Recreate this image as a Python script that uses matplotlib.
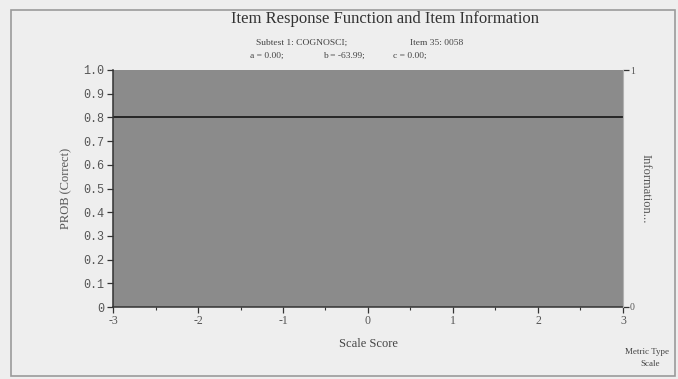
import matplotlib
matplotlib.use("Agg")
import matplotlib.pyplot as plt
from matplotlib.patches import Rectangle
from matplotlib.ticker import MultipleLocator

# Item characteristic curve (probability of a correct response vs. scale score)
scale_score = [-3, 3]
prob_correct = [0.8, 0.8]

x_ticks = [-3, -2, -1, 0, 1, 2, 3]
x_tick_labels = ["-3", "-2", "-1", "0", "1", "2", "3"]
y_ticks = [0, 0.1, 0.2, 0.3, 0.4, 0.5, 0.6, 0.7, 0.8, 0.9, 1.0]
y_tick_labels = ["0", "0.1", "0.2", "0.3", "0.4", "0.5", "0.6", "0.7", "0.8", "0.9", "1.0"]
info_ticks = [0, 1]
info_tick_labels = ["0", "1"]

W, H = 678, 379
paper = "#eeeeee"
panel = "#8b8b8b"
ink = "#333333"
serif = "Liberation Serif"
mono = "Liberation Mono"

fig = plt.figure(figsize=(W / 100, H / 100), dpi=100, facecolor=paper)

# page frame
fig.patches.append(Rectangle((11 / W, 3 / H), 664 / W, 366 / H, transform=fig.transFigure,
                             fill=False, edgecolor="#9a9a9a", linewidth=1.2))

ax = fig.add_axes([113 / W, 1 - 307 / H, 510 / W, 237 / H])
ax.set_facecolor(panel)
ax.plot(scale_score, prob_correct, color="#1e1e1e", linewidth=1.3)
ax.set_xlim(-3, 3)
ax.set_ylim(0, 1.0)

ax.set_xticks(x_ticks)
ax.set_xticklabels(x_tick_labels, fontfamily=serif, fontsize=8.5, color="#555555")
ax.xaxis.set_minor_locator(MultipleLocator(0.5))
ax.set_yticks(y_ticks)
ax.set_yticklabels(y_tick_labels, fontfamily=mono, fontsize=8.5, color="#555555")
ax.tick_params(axis="both", which="major", length=4, width=0.9, color=ink, direction="out", pad=2)
ax.tick_params(axis="x", which="minor", length=2.5, width=0.8, color=ink)

for side in ("top", "right"):
    ax.spines[side].set_visible(False)
for side in ("left", "bottom"):
    ax.spines[side].set_color(ink)
    ax.spines[side].set_linewidth(1.1)

ax.set_xlabel("Scale Score", fontfamily=serif, fontsize=9, color="#444444", labelpad=8)
ax.set_ylabel("PROB (Correct)", fontfamily=serif, fontsize=9, color="#555555", labelpad=8)

# information axis on the right
ax2 = ax.twinx()
ax2.set_ylim(0, 1)
ax2.set_yticks(info_ticks)
ax2.set_yticklabels(info_tick_labels, fontfamily=serif, fontsize=7, color="#555555")
ax2.tick_params(axis="y", length=4, width=0.9, color=ink, pad=1)
for side in ("top", "left", "bottom"):
    ax2.spines[side].set_visible(False)
ax2.spines["right"].set_color("#b0b0b0")
ax2.set_ylabel("Information...", fontfamily=serif, fontsize=9, color="#555555",
               rotation=270, labelpad=12)

# titles
fig.text(385 / W, 1 - 19 / H, "Item Response Function and Item Information",
         ha="center", va="center", fontfamily=serif, fontsize=12, color="#333333")
fig.text(302 / W, 1 - 43 / H, "Subtest 1: COGNOSCI;", ha="center", va="center",
         fontfamily=serif, fontsize=6.8, color="#444444")
fig.text(437 / W, 1 - 43 / H, "Item 35: 0058", ha="center", va="center",
         fontfamily=serif, fontsize=6.8, color="#444444")
fig.text(267 / W, 1 - 56 / H, "a = 0.00;", ha="center", va="center",
         fontfamily=serif, fontsize=6.8, color="#444444")
fig.text(344 / W, 1 - 56 / H, "b = -63.99;", ha="center", va="center",
         fontfamily=serif, fontsize=6.8, color="#444444")
fig.text(410 / W, 1 - 56 / H, "c = 0.00;", ha="center", va="center",
         fontfamily=serif, fontsize=6.8, color="#444444")

# metric note
fig.text(647 / W, 1 - 352 / H, "Metric Type", ha="center", va="center",
         fontfamily=serif, fontsize=6.5, color="#444444")
fig.text(650 / W, 1 - 364 / H, "Scale", ha="center", va="center",
         fontfamily=serif, fontsize=6.5, color="#444444")

fig.savefig("out.png", dpi=100, facecolor=paper)
